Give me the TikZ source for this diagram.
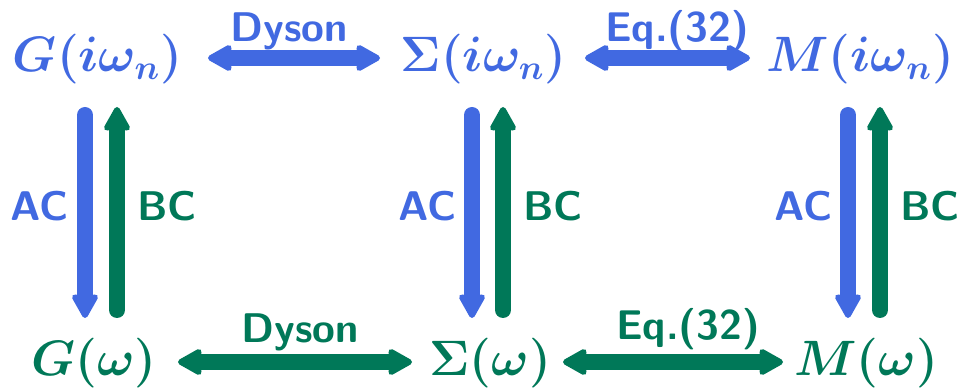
\documentclass[tikz,border=0pt]{standalone}
\usetikzlibrary{arrows.meta}
\definecolor{cblue}{RGB}{65,105,225}
\definecolor{cgreen}{RGB}{0,120,88}
\tikzset{
  tipx/.tip={Stealth[round, length=14.5pt, width=16pt, inset=3pt, line width=3pt]}
}
\begin{document}
\begin{tikzpicture}[x=0.5pt,y=-0.5pt,
  lab/.style={font=\fontsize{25.5}{30}\selectfont\boldmath, inner sep=0pt, anchor=base},
  tag/.style={font=\huge\sffamily\bfseries, inner sep=0pt, anchor=base},
  arr/.style={line width=8pt, line cap=round, arrows={-tipx}, shorten <=4pt},
  dbl/.style={line width=8pt, line cap=round, arrows={tipx-tipx}}
]
\useasboundingbox (0,0) rectangle (957,389);
% nodes
\node[lab, text=cblue] (Giw) at (97.5,72) {$G(i\omega_n)$};
\node[lab, text=cblue] (Siw) at (483.5,72) {$\Sigma(i\omega_n)$};
\node[lab, text=cblue] (Miw) at (860,72) {$M(i\omega_n)$};
\node[lab, text=cgreen] (Gw) at (94,375) {$G(\omega)$};
\node[lab, text=cgreen] (Sw) at (490,375) {$\Sigma(\omega)$};
\node[lab, text=cgreen] (Mw) at (866,375) {$M(\omega)$};
% arrow end points
\coordinate (hGt) at (208,58);  \coordinate (hSt1) at (380,58);
\coordinate (hSt2) at (585,58); \coordinate (hMt) at (750,58);
\coordinate (hGb) at (178,362); \coordinate (hSb1) at (412,362);
\coordinate (hSb2) at (563,362);\coordinate (hMb) at (783,362);
\foreach \n/\bx/\gx in {1/85/117, 2/472/503, 3/848/880}{
  \coordinate (b\n t) at (\bx,107); \coordinate (b\n b) at (\bx,318);
  \coordinate (g\n t) at (\gx,107); \coordinate (g\n b) at (\gx,318);
}
% horizontal arrows
\draw[dbl, cblue] (hGt) -- (hSt1);
\draw[dbl, cblue] (hSt2) -- (hMt);
\draw[dbl, cgreen] (hGb) -- (hSb1);
\draw[dbl, cgreen] (hSb2) -- (hMb);
% vertical arrows
\draw[arr, cblue] (b1t) -- (b1b);
\draw[arr, cgreen] (g1b) -- (g1t);
\draw[arr, cblue] (b2t) -- (b2b);
\draw[arr, cgreen] (g2b) -- (g2t);
\draw[arr, cblue] (b3t) -- (b3b);
\draw[arr, cgreen] (g3b) -- (g3t);
% labels
\node[tag, text=cblue] (t1) at (289,42) {Dyson};
\node[tag, text=cblue] (t2) at (677,42) {Eq.(32)};
\node[tag, text=cgreen] (t3) at (300,343) {Dyson};
\node[tag, text=cgreen] (t4) at (688,340) {Eq.(32)};
\node[tag, text=cblue] (a1) at (40,221) {AC};
\node[tag, text=cgreen] (c1) at (167,221) {BC};
\node[tag, text=cblue] (a2) at (427.5,221) {AC};
\node[tag, text=cgreen] (c2) at (553,221) {BC};
\node[tag, text=cblue] (a3) at (804,221) {AC};
\node[tag, text=cgreen] (c3) at (930,221) {BC};
\end{tikzpicture}
\end{document}
